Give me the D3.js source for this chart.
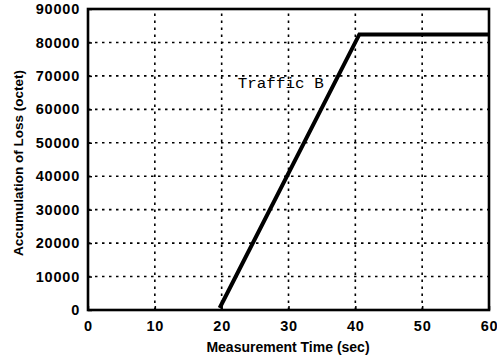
<!DOCTYPE html>
<html lang="en">
 <head>
  <meta charset="UTF-8">
  <title>Accumulation of Loss - Traffic B</title>
  <script src="https://cdnjs.cloudflare.com/ajax/libs/d3/7.8.5/d3.min.js"></script>
  <style>
    body { margin: 0; background: #fff; }
  </style>
 </head>
 <body>
  <script>
    // data
    var timeSec = [19.7, 40.6, 60];
    var lossOctet = [600, 82400, 82400];
    var xTicks = [0, 10, 20, 30, 40, 50, 60];
    var yTicks = [0, 10000, 20000, 30000, 40000, 50000, 60000, 70000, 80000, 90000];
    var seriesLabel = "Traffic B";

    var W = 497, H = 358;
    // note: "top" is taken by window.top, so plot edges get their own names
    var plotL = 88, plotR = 489, plotT = 9, plotB = 310;

    var svg = d3.select("body").append("svg")
                .attr("width", W)
                .attr("height", H);

    var x = d3.scaleLinear().domain([0, 60]).range([plotL, plotR]);
    var y = d3.scaleLinear().domain([0, 90000]).range([plotB, plotT]);

    // dotted grid
    var grid = svg.append("g")
                  .attr("stroke", "#000")
                  .attr("stroke-width", 1.6)
                  .attr("stroke-dasharray", "2.5,4.5");

    grid.selectAll("line.gx")
        .data(xTicks.slice(1, -1))
        .enter().append("line")
        .attr("x1", d => x(d)).attr("x2", d => x(d))
        .attr("y1", plotB).attr("y2", plotT);

    grid.selectAll("line.gy")
        .data(yTicks.slice(1, -1))
        .enter().append("line")
        .attr("y1", d => y(d)).attr("y2", d => y(d))
        .attr("x1", plotL).attr("x2", plotR);

    // axes with short inward ticks
    var xAxis = svg.append("g")
        .attr("transform", "translate(0," + plotB + ")")
        .call(d3.axisBottom(x).tickValues(xTicks).tickSize(-4).tickPadding(10));
    var yAxis = svg.append("g")
        .attr("transform", "translate(" + plotL + ",0)")
        .call(d3.axisLeft(y).tickValues(yTicks).tickSize(-4).tickPadding(8).tickFormat(d3.format("d")));

    [xAxis, yAxis].forEach(function (g) {
      g.select(".domain").remove();
      g.selectAll(".tick line").attr("stroke", "#000").attr("stroke-width", 1.5);
      g.selectAll("text")
       .attr("fill", "#000")
       .style("font-family", "Liberation Sans, Arial, sans-serif")
       .style("font-size", "14.5px")
       .style("font-weight", "bold")
       .style("letter-spacing", "0.8px");
    });
    xAxis.selectAll("text").attr("dy", "0.75em");

    // frame
    svg.append("rect")
       .attr("x", plotL).attr("y", plotT)
       .attr("width", plotR - plotL).attr("height", plotB - plotT)
       .attr("fill", "none")
       .attr("stroke", "#000")
       .attr("stroke-width", 2.6);

    // series
    var line = d3.line().x(d => x(d[0])).y(d => y(d[1]));
    svg.append("path")
       .datum(d3.zip(timeSec, lossOctet))
       .attr("d", line)
       .attr("fill", "none")
       .attr("stroke", "#000")
       .attr("stroke-width", 4)
       .attr("stroke-linejoin", "miter");

    svg.append("text")
       .attr("x", x(22.4))
       .attr("y", y(66300))
       .attr("textLength", 86)
       .attr("lengthAdjust", "spacingAndGlyphs")
       .style("font-family", "Liberation Mono, Courier New, monospace")
       .style("font-size", "14px")
       .text(seriesLabel);

    // axis titles
    svg.append("text")
       .attr("x", 288).attr("y", 352)
       .attr("text-anchor", "middle")
       .style("font-family", "Liberation Sans, Arial, sans-serif")
       .style("font-size", "14px")
       .style("font-weight", "bold")
       .text("Measurement Time (sec)");

    svg.append("text")
       .attr("transform", "translate(23,163) rotate(-90)")
       .attr("text-anchor", "middle")
       .style("font-family", "Liberation Sans, Arial, sans-serif")
       .style("font-size", "13.5px")
       .style("font-weight", "bold")
       .text("Accumulation of Loss (octet)");
  </script>
 </body>
</html>
